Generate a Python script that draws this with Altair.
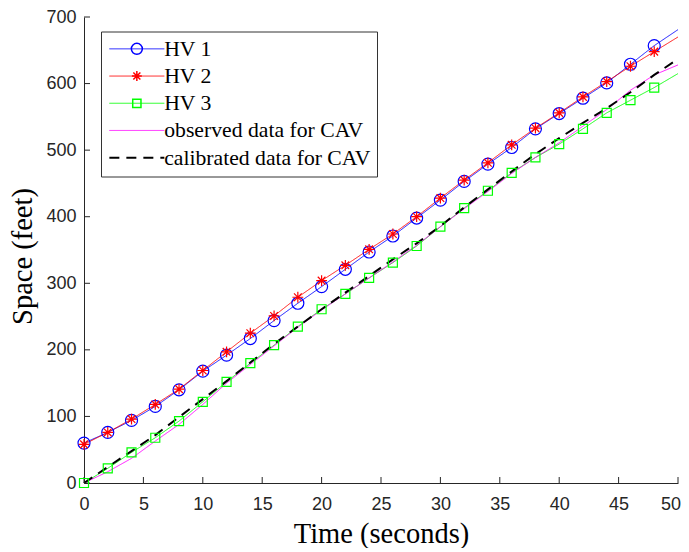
import altair as alt
import pandas as pd

# ---- data ----
t_line = [0, 2, 4, 6, 8, 10, 12, 14, 16, 18, 20, 22, 24, 26, 28, 30, 32, 34, 36, 38, 40, 42, 44, 46, 48, 50]
hv1 = [60, 76, 94, 115, 140, 168, 192, 217, 244, 270, 295, 321, 347, 371, 398, 425, 453, 479, 504, 532, 555, 578, 601, 629, 657, 681]
hv2 = [58, 76, 96, 118, 141, 169, 197, 225, 251, 279, 304, 327, 351, 374, 400, 428, 455, 481, 508, 533, 556, 580, 603, 626, 648, 670]
hv3 = [0, 22, 46, 68, 93, 122, 152, 180, 207, 235, 261, 284, 308, 331, 356, 385, 413, 439, 466, 489, 509, 532, 556, 575, 594, 615]
obs = [0, 17, 37, 63, 88, 118, 150, 178, 206, 234, 260, 284, 308, 332, 357, 385, 412, 438, 465, 489, 511, 536, 561, 590, 613, 628]
cal = [0, 24, 48, 72, 99, 126, 153, 181, 209, 235, 261, 286, 311, 336, 360, 386, 414, 441, 468, 494, 518, 541, 563, 587, 613, 637]
marker_t_max = 48

series_names = ["HV 1", "HV 2", "HV 3", "observed data for CAV", "calibrated data for CAV"]
x_ticks = [0, 5, 10, 15, 20, 25, 30, 35, 40, 45, 50]
y_ticks = [0, 100, 200, 300, 400, 500, 600, 700]

# ---- styles ----
colors = ["#0000FF", "#FF0000", "#00FF00", "#FF00FF", "#000000"]
dashes = [[1, 0], [1, 0], [1, 0], [1, 0], [10, 7]]
widths = [0.9, 0.9, 0.9, 0.9, 2]
circle_path = "M-1,0A1,1 0 1,0 1,0A1,1 0 1,0 -1,0Z"
star_path = "M0,-0.9V0.9M-0.9,0H0.9M-0.64,-0.64L0.64,0.64M-0.64,0.64L0.64,-0.64"
square_path = "M-0.75,-0.75H0.75V0.75H-0.75Z"
shape_paths = [circle_path, star_path, square_path]

rows = []
for name, vals in zip(series_names, [hv1, hv2, hv3, obs, cal]):
    for t, v in zip(t_line, vals):
        rows.append({"series": name, "t": t, "s": v})
lines_df = pd.DataFrame(rows)
marker_df = lines_df[lines_df["series"].isin(series_names[:3]) & (lines_df["t"] <= marker_t_max)]
xt_df = pd.DataFrame({"v": x_ticks})
yt_df = pd.DataFrame({"v": y_ticks})

W, H = 594, 466
AX = "#262626"
TICK = 6

x_scale = alt.Scale(domain=[0, 50], nice=False, zero=False)
y_scale = alt.Scale(domain=[0, 700], nice=False, zero=False)

axis_common = dict(
    grid=False, domainColor=AX, domainWidth=1, labelColor=AX, labelFont="Liberation Sans",
    labelFontSize=18, titleFont="Liberation Serif", titleFontSize=28.5, titleColor="#000000",
    titleFontWeight="normal", ticks=False, tickSize=0,
)
x_axis = alt.Axis(
    title="Time (seconds)", values=x_ticks, labelPadding=12, titlePadding=6,
    labelAlign={"condition": {"test": "datum.value >= 50", "value": "right"}, "value": "center"},
    labelOffset={"condition": {"test": "datum.value >= 50", "value": 2.5}, "value": 0},
    **axis_common,
)
y_axis = alt.Axis(title="Space (feet)", values=y_ticks, labelPadding=8, titlePadding=8, titleY=239, **axis_common)

legend_common = dict(
    orient="none", legendX=17, legendY=14.5, title=None, symbolSize=121,
    labelFont="Liberation Serif", labelFontSize=21.7, labelColor="#000000",
    padding=6.5, rowPadding=4.2, symbolOffset=18.5, labelOffset=16.5, labelLimit=400,
)

lines = alt.Chart(lines_df).mark_line().encode(
    x=alt.X("t:Q", scale=x_scale, axis=x_axis),
    y=alt.Y("s:Q", scale=y_scale, axis=y_axis),
    color=alt.Color("series:N", scale=alt.Scale(domain=series_names, range=colors),
                    legend=alt.Legend(symbolType="M-5,0H5", strokeColor="#333333", **legend_common)),
    strokeDash=alt.StrokeDash("series:N", scale=alt.Scale(domain=series_names, range=dashes)),
    strokeWidth=alt.StrokeWidth("series:N", scale=alt.Scale(type="ordinal", domain=series_names, range=widths)),
)

marker_legend = alt.Legend(labelOpacity=0, **legend_common)
points = alt.Chart(marker_df).mark_point(filled=False, size=144, strokeWidth=1.2, opacity=1).encode(
    x=alt.X("t:Q", scale=x_scale, axis=x_axis),
    y=alt.Y("s:Q", scale=y_scale, axis=y_axis),
    color=alt.Color("series:N", scale=alt.Scale(domain=series_names[:3], range=colors[:3]),
                    legend=marker_legend),
    shape=alt.Shape("series:N", scale=alt.Scale(domain=series_names[:3], range=shape_paths),
                    legend=marker_legend),
)

x_tick_marks = alt.Chart(xt_df).mark_rule(color=AX, strokeWidth=1).encode(
    x=alt.X("v:Q", scale=x_scale, axis=x_axis),
    y=alt.value(H), y2=alt.value(H - TICK),
)
y_tick_marks = alt.Chart(yt_df).mark_rule(color=AX, strokeWidth=1).encode(
    y=alt.Y("v:Q", scale=y_scale, axis=y_axis),
    x=alt.value(0), x2=alt.value(TICK),
)

chart = (
    alt.layer(lines, x_tick_marks, y_tick_marks, points)
    .resolve_scale(color="independent", shape="independent",
                   strokeDash="independent", strokeWidth="independent")
    .properties(
        width=W, height=H,
        autosize=alt.AutoSizeParams(type="none"),
        padding={"left": 76, "top": 9, "right": 3, "bottom": 65},
        background="white",
    )
    .configure_view(stroke=None)
)

chart.save("out.html", embed_options={"renderer": "svg", "actions": False})
